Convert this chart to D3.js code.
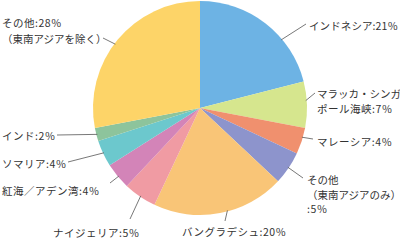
<!DOCTYPE html>
<html>
<head>
<meta charset="utf-8">
<script src="https://cdn.jsdelivr.net/npm/d3@7"></script>
<style>
  html, body { margin: 0; padding: 0; background: #fff; }
  svg { display: block; }
  .lbl { font-family: "Noto Sans CJK JP", sans-serif; font-size: 10.5px; fill: #333; }
  .leader { stroke: #555; stroke-width: 0.8; fill: none; }
</style>
</head>
<body>
<div id="chart"></div>
<script>
// Share of incidents by region (%), clockwise from 12 o'clock
const regions = ['インドネシア', 'マラッカ・シンガポール海峡', 'マレーシア', 'その他（東南アジアのみ）',
    'バングラデシュ', 'ナイジェリア', '紅海／アデン湾', 'ソマリア', 'インド', 'その他（東南アジアを除く）'];
const shares = [21, 7, 4, 5, 20, 5, 4, 4, 2, 28];
const colors = ['#6db3e4', '#d6e68e', '#f0906e', '#8d94cc', '#f9c577',
    '#f09ba3', '#d384b8', '#6cc8cd', '#8dc49c', '#fdd468'];

// label text lines, one array per region
const labelLines = [
    ['インドネシア:21％'],
    ['マラッカ・シンガ', 'ポール海峡:7％'],
    ['マレーシア:4％'],
    ['その他', '（東南アジアのみ）', ':5％'],
    ['バングラデシュ:20％'],
    ['ナイジェリア:5％'],
    ['紅海／アデン湾:4％'],
    ['ソマリア:4％'],
    ['インド:2％'],
    ['その他:28％', '（東南アジアを除く）']
];

// label layout: text origin, line gap, tracking, leader angle on the rim, leader end
const layout = [
    { x: 309, y: 25, gap: 0, ls: 0.1, ang: 50, ex: 306, ey: 24 },
    { x: 317, y: 93, gap: 15, ls: 0.5, ang: 86, ex: 315, ey: 93 },
    { x: 317, y: 141, gap: 0, ls: 0.5, ang: 106, ex: 313, ey: 139 },
    { x: 307, y: 179, gap: 14.5, ls: 0.5, ang: 124, ex: 303, ey: 178 },
    { x: 182, y: 231, gap: 0, ls: 0.5, ang: 165, ex: 225, ey: 221 },
    { x: 53, y: 232, gap: 0, ls: 0.5, ang: 214, ex: 130, ey: 219 },
    { x: 2, y: 190, gap: 0, ls: 0.5, ang: 230, ex: 110, ey: 183 },
    { x: 2, y: 163, gap: 0, ls: 0.5, ang: 245, ex: 68, ey: 162 },
    { x: 2, y: 135, gap: 0, ls: 0.5, ang: 255.6, ex: 57, ey: 135 },
    { x: 2, y: 22, gap: 16, ls: 0.5, ang: 307, ex: 103, ey: 38 }
];

const width = 400, height = 241;
const cx = 200, cy = 108, radius = 107;

const svg = d3.select('#chart').append('svg')
    .attr('width', width)
    .attr('height', height);

const pie = d3.pie().sort(null).value(d => d)(shares);
const arc = d3.arc().innerRadius(0).outerRadius(radius);

const g = svg.append('g').attr('transform', `translate(${cx},${cy})`);
g.selectAll('path')
    .data(pie)
    .join('path')
    .attr('d', arc)
    .attr('fill', (d, i) => colors[i]);

// leader lines
svg.selectAll('line.leader')
    .data(layout)
    .join('line')
    .attr('class', 'leader')
    .attr('x1', d => cx + (radius - 1) * Math.sin(d.ang * Math.PI / 180))
    .attr('y1', d => cy - (radius - 1) * Math.cos(d.ang * Math.PI / 180))
    .attr('x2', d => d.ex)
    .attr('y2', d => d.ey);

// labels; lines with a value get a little tracking, bracket lines none
labelLines.forEach((lines, i) => {
    const l = layout[i];
    const t = svg.append('text')
        .attr('class', 'lbl')
        .attr('x', l.x)
        .attr('y', l.y)
        .attr('dominant-baseline', 'central');
    lines.forEach((s, j) => {
        t.append('tspan')
            .attr('x', l.x)
            .attr('y', l.y + j * l.gap)
            .attr('letter-spacing', s.includes('％') ? l.ls : 0)
            .text(s);
    });
});
</script>
</body>
</html>
